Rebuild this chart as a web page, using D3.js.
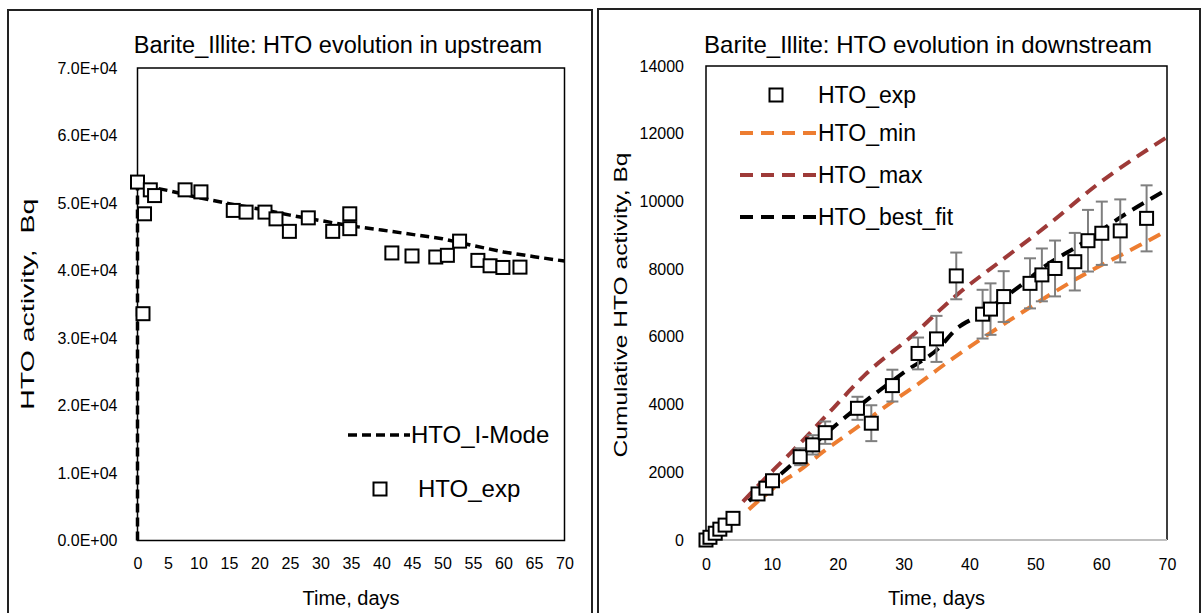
<!DOCTYPE html>
<html><head><meta charset="utf-8">
<script src="https://cdn.jsdelivr.net/npm/d3@7"></script>
<style>
html,body{margin:0;padding:0;background:#fff;}
svg{display:block;font-family:"Liberation Sans",Arial,sans-serif;}
</style></head>
<body>
<svg id="chart" width="1202" height="613"></svg>
<script>
// ---------- Left chart data (upstream) ----------
const upTitle = "Barite_Illite: HTO evolution in upstream";
const upYTicks = [0, 10000, 20000, 30000, 40000, 50000, 60000, 70000];
const upXTicks = [0, 5, 10, 15, 20, 25, 30, 35, 40, 45, 50, 55, 60, 65, 70];
const upExpT = [0, 0.9, 1.15, 2.1, 2.8, 7.8, 10.4, 15.7, 17.8, 20.9, 22.7, 24.9, 28.0, 32.0, 34.8, 34.8, 41.7, 45.0, 48.9, 50.8, 52.8, 55.8, 57.8, 59.9, 62.7];
const upExpV = [53100, 33600, 48400, 51950, 51100, 51950, 51650, 48900, 48650, 48650, 47650, 45800, 47800, 45800, 48400, 46200, 42600, 42150, 42000, 42250, 44350, 41500, 40700, 40450, 40500];
const upModelT = [0, 0, 0.3, 1, 2, 5, 10, 15, 20, 25, 30, 35, 40, 45, 50, 55, 60, 65, 70];
const upModelV = [0, 52800, 52800, 52700, 52400, 51850, 50800, 49900, 49100, 48200, 47400, 46600, 46000, 45350, 44700, 43700, 42750, 42050, 41400];

// ---------- Right chart data (downstream) ----------
const dnTitle = "Barite_Illite: HTO evolution in downstream";
const dnYTicks = [0, 2000, 4000, 6000, 8000, 10000, 12000, 14000];
const dnXTicks = [0, 10, 20, 30, 40, 50, 60, 70];
const dnExpT = [0, 0.6, 1.4, 2.1, 2.9, 4.1, 7.9, 9.1, 10.1, 14.3, 16.2, 18.1, 23.0, 25.1, 28.3, 32.2, 35.0, 38.0, 42.0, 43.2, 45.2, 49.2, 51.0, 53.0, 56.0, 58.0, 60.1, 62.9, 66.9];
const dnExpV = [0, 80, 200, 320, 440, 640, 1360, 1530, 1750, 2460, 2810, 3170, 3890, 3450, 4560, 5510, 5940, 7800, 6670, 6820, 7190, 7580, 7830, 8020, 8220, 8840, 9060, 9130, 9500];
const dnExpErr = [0, 10, 20, 30, 45, 65, 140, 155, 175, 250, 285, 330, 340, 530, 470, 470, 680, 690, 720, 760, 750, 740, 780, 825, 850, 910, 935, 930, 975];
const dnMinT = [6.5, 11.2, 14.3, 17.8, 22.4, 29.5, 32.0, 36.8, 46.2, 57.3, 65.9, 70];
const dnMinV = [900, 1670, 2070, 2610, 3250, 4250, 4580, 5270, 6500, 7830, 8710, 9140];
const dnMaxT = [5.6, 10.0, 12.8, 19.3, 24.1, 32.0, 35.5, 38.1, 45.1, 52.2, 59.3, 70];
const dnMaxV = [1130, 2020, 2560, 3890, 4870, 6150, 6790, 7240, 8290, 9350, 10480, 11900];
const dnBestT = [6.5, 11.2, 20.6, 24.4, 30.2, 35.3, 38.1, 41.1, 48.2, 51.7, 56.3, 63.9, 70];
const dnBestV = [1150, 1920, 3540, 4130, 4970, 5660, 6250, 6600, 7580, 8120, 8660, 9650, 10350];

const svg = d3.select("#chart");

// panel frames
svg.append("rect").attr("x", 8).attr("y", 10).attr("width", 584).attr("height", 620)
  .attr("fill", "none").attr("stroke", "#222").attr("stroke-width", 2);
svg.append("rect").attr("x", 598).attr("y", 9).attr("width", 602).attr("height", 620)
  .attr("fill", "none").attr("stroke", "#222").attr("stroke-width", 2);

function sci(v) {
  const parts = v.toExponential(1).split("e");
  const n = +parts[1];
  return parts[0] + "E" + (n < 0 ? "-" : "+") + String(Math.abs(n)).padStart(2, "0");
}

function square(g, cx, cy) {
  g.append("rect").attr("x", cx - 6.5).attr("y", cy - 6.5).attr("width", 13).attr("height", 13)
    .attr("fill", "#fff").attr("stroke", "#000").attr("stroke-width", 2);
}

// ================= LEFT =================
{
  const L = 137.5, R = 564.5, T = 68, B = 540.5;
  const x = d3.scaleLinear().domain([0, 70]).range([L, R]);
  const y = d3.scaleLinear().domain([0, 70000]).range([B, T]);
  const g = svg.append("g");

  g.append("text").attr("x", 338).attr("y", 53).attr("text-anchor", "middle")
    .attr("font-size", 23.5).text(upTitle);

  const yAx = g.append("g").attr("transform", `translate(${L - 17},0)`)
    .call(d3.axisLeft(y).tickValues(upYTicks).tickSize(0).tickFormat(sci));
  yAx.select(".domain").remove();
  yAx.selectAll("text").attr("font-size", 16).attr("font-family", "Liberation Sans, Arial, sans-serif").attr("fill", "#000");

  const xAx = g.append("g").attr("transform", `translate(0,${B + 14})`)
    .call(d3.axisBottom(x).tickValues(upXTicks).tickSize(0).tickFormat(d3.format("d")));
  xAx.select(".domain").remove();
  xAx.selectAll("text").attr("font-size", 16).attr("font-family", "Liberation Sans, Arial, sans-serif").attr("fill", "#000");

  g.append("rect").attr("x", L).attr("y", T).attr("width", R - L).attr("height", B - T)
    .attr("fill", "none").attr("stroke", "#000").attr("stroke-width", 1.5);

  g.append("text").attr("x", x(35)).attr("y", 605).attr("text-anchor", "middle")
    .attr("font-size", 20).text("Time, days");
  g.append("text").attr("transform", `translate(34,${(T + B) / 2}) rotate(-90)`)
    .attr("text-anchor", "middle").attr("font-size", 18.5).style("white-space", "pre")
    .attr("textLength", 211).attr("lengthAdjust", "spacingAndGlyphs")
    .text("HTO activity,  Bq");

  const line = d3.line().x((d, i) => x(upModelT[i])).y((d, i) => y(upModelV[i]));
  g.append("path").datum(upModelV).attr("d", line).attr("fill", "none")
    .attr("stroke", "#000").attr("stroke-width", 3.5).attr("stroke-dasharray", "9,5");

  upExpV.forEach((v, i) => square(g, x(upExpT[i]), y(v)));

  // legend
  g.append("line").attr("x1", 348).attr("x2", 410).attr("y1", 435).attr("y2", 435)
    .attr("stroke", "#000").attr("stroke-width", 3.5).attr("stroke-dasharray", "9,5");
  g.append("text").attr("x", 411).attr("y", 443).attr("font-size", 24).text("HTO_I-Mode");
  square(g, 380, 489);
  g.append("text").attr("x", 418).attr("y", 497).attr("font-size", 24).text("HTO_exp");
}

// ================= RIGHT =================
{
  const L = 706, R = 1167, T = 66, B = 540;
  const x = d3.scaleLinear().domain([0, 70]).range([L, R]);
  const y = d3.scaleLinear().domain([0, 14000]).range([B, T]);
  const g = svg.append("g");

  g.append("text").attr("x", 928).attr("y", 53).attr("text-anchor", "middle")
    .attr("font-size", 24).text(dnTitle);

  const yAx = g.append("g").attr("transform", `translate(${L - 19},0)`)
    .call(d3.axisLeft(y).tickValues(dnYTicks).tickSize(0).tickFormat(d3.format("d")));
  yAx.select(".domain").remove();
  yAx.selectAll("text").attr("font-size", 16).attr("font-family", "Liberation Sans, Arial, sans-serif").attr("fill", "#000");

  const xAx = g.append("g").attr("transform", `translate(0,${B + 16})`)
    .call(d3.axisBottom(x).tickValues(dnXTicks).tickSize(0).tickFormat(d3.format("d")));
  xAx.select(".domain").remove();
  xAx.selectAll("text").attr("font-size", 16).attr("font-family", "Liberation Sans, Arial, sans-serif").attr("fill", "#000");

  // plot border: black left/top/right, gray bottom axis
  g.append("path").attr("d", `M${L},${B}V${T}H${R}V${B}`).attr("fill", "none")
    .attr("stroke", "#000").attr("stroke-width", 1.5);
  g.append("line").attr("x1", L).attr("x2", R).attr("y1", B).attr("y2", B)
    .attr("stroke", "#bfbfbf").attr("stroke-width", 2);

  g.append("text").attr("x", x(35)).attr("y", 605).attr("text-anchor", "middle")
    .attr("font-size", 20).text("Time, days");
  g.append("text").attr("transform", `translate(627,${(T + B) / 2 + 2}) rotate(-90)`)
    .attr("text-anchor", "middle").attr("font-size", 18.5)
    .attr("textLength", 305).attr("lengthAdjust", "spacingAndGlyphs")
    .text("Cumulative HTO activity, Bq");

  const series = [
    { t: dnMinT, v: dnMinV, c: "#ed7d31" },
    { t: dnMaxT, v: dnMaxV, c: "#9e3a38" },
    { t: dnBestT, v: dnBestV, c: "#000" }
  ];
  series.forEach(s => {
    const ln = d3.line().curve(d3.curveMonotoneX).x((d, i) => x(s.t[i])).y((d, i) => y(s.v[i]));
    g.append("path").datum(s.v).attr("d", ln).attr("fill", "none")
      .attr("stroke", s.c).attr("stroke-width", 4).attr("stroke-dasharray", "13,8");
  });

  // error bars
  dnExpV.forEach((v, i) => {
    const e = dnExpErr[i];
    if (e <= 0) return;
    const cx = x(dnExpT[i]);
    const eg = g.append("g").attr("stroke", "#7f7f7f").attr("stroke-width", 2);
    eg.append("line").attr("x1", cx).attr("x2", cx).attr("y1", y(v - e)).attr("y2", y(v + e));
    eg.append("line").attr("x1", cx - 6).attr("x2", cx + 6).attr("y1", y(v - e)).attr("y2", y(v - e));
    eg.append("line").attr("x1", cx - 6).attr("x2", cx + 6).attr("y1", y(v + e)).attr("y2", y(v + e));
  });

  dnExpV.forEach((v, i) => square(g, x(dnExpT[i]), y(v)));

  // legend
  square(g, 776, 95);
  g.append("text").attr("x", 818).attr("y", 103).attr("font-size", 23).text("HTO_exp");
  const leg = [
    { label: "HTO_min", c: "#ed7d31", yy: 133 },
    { label: "HTO_max", c: "#9e3a38", yy: 175 },
    { label: "HTO_best_fit", c: "#000", yy: 217 }
  ];
  leg.forEach(l => {
    g.append("line").attr("x1", 740).attr("x2", 817).attr("y1", l.yy).attr("y2", l.yy)
      .attr("stroke", l.c).attr("stroke-width", 4).attr("stroke-dasharray", "13,8");
    g.append("text").attr("x", 818).attr("y", l.yy + 8).attr("font-size", 23).text(l.label);
  });
}
</script>
</body></html>
